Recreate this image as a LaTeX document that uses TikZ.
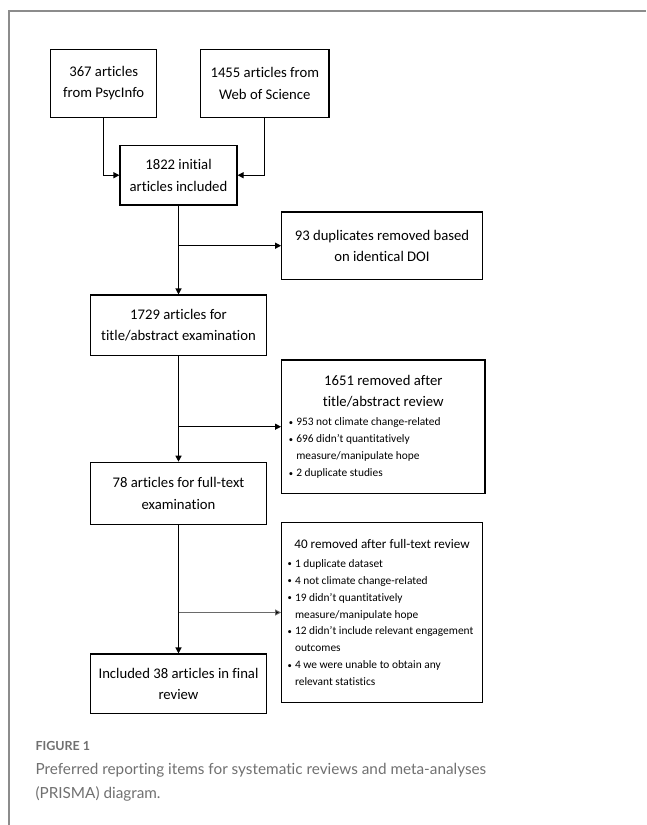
\documentclass[tikz,border=0pt]{standalone}
\usepackage{fontspec}
\setmainfont{Carlito}[Ligatures={NoCommon}]
\newfontfamily\capfont{Lato}[Ligatures={NoCommon}]
\usetikzlibrary{arrows.meta}
\definecolor{framec}{HTML}{8C8C8C}
\definecolor{capc}{HTML}{707070}
\definecolor{branchc}{HTML}{6A6A6A}
\newcommand\bitem[1]{\par\hangindent=7.5pt\hangafter=1\noindent\makebox[7.5pt][l]{\raisebox{0.6pt}{\scalebox{0.75}{\textbullet}}}#1}
\newcommand\nl{\hfill\break}
\begin{document}
\begin{tikzpicture}[x=1pt,y=-1pt,
  box/.style={draw=black,line width=1.2pt,inner sep=0pt,align=center,
    font=\fontsize{14.7}{21.5}\selectfont,text=black},
  conn/.style={line width=1.2pt,-{Triangle[length=6pt,width=6pt]}},
  thinconn/.style={line width=0.9pt,draw=branchc,-{Triangle[length=6pt,width=6pt,fill=black]}},
  caplabel/.style={anchor=base west,inner sep=0pt,text=capc}]
\useasboundingbox (0,0) rectangle (646,825);
\draw[framec,line width=1.5pt] (9,825) -- (9,11) -- (646,11);

\node[box,minimum width=106pt,minimum height=68pt] (ps) at (103.7,83.3) {367 articles\\from PsycInfo};
\node[box,minimum width=128.3pt,minimum height=68pt] (wos) at (264.8,83.3) {1455 articles from\\Web of Science};
\node[box,minimum width=117pt,minimum height=59.7pt] (ini) at (178.5,175.2) {1822 initial\\articles included};
\node[box,minimum width=200.6pt,minimum height=67.3pt] (dup) at (382,245.7) {93 duplicates removed based\\on identical DOI};
\node[box,minimum width=176.7pt,minimum height=60.3pt] (ta) at (178.5,325.2) {1729 articles for\\title/abstract examination};
\node[box,minimum width=203.3pt,minimum height=133.3pt] (rta) at (383.3,426.7) {\begin{minipage}{189pt}\centering\fontsize{14.7}{21.5}\selectfont
1651 removed after\\title/abstract review\par\vspace{2.4pt}\raggedright\fontsize{11.4}{16.9}\selectfont
\bitem{953 not climate change-related}
\bitem{696 didn’t quantitatively\nl measure/manipulate hope}
\bitem{2 duplicate studies}\par
\end{minipage}};
\node[box,minimum width=176.7pt,minimum height=62pt] (ft) at (178.5,493.3) {78 articles for full-text\\examination};
\node[box,minimum width=200.6pt,minimum height=179.6pt] (rft) at (382,612.5) {\begin{minipage}{189pt}\centering\fontsize{13.1}{21.5}\selectfont
40 removed after full-text review\par\vspace{2.1pt}\raggedright\fontsize{11.4}{16.9}\selectfont
\bitem{1 duplicate dataset}
\bitem{4 not climate change-related}
\bitem{19 didn’t quantitatively\nl measure/manipulate hope}
\bitem{12 didn’t include relevant engagement\nl outcomes}
\bitem{4 we were unable to obtain any\nl relevant statistics}\par
\end{minipage}};
\node[box,minimum width=176.7pt,minimum height=59.3pt] (fin) at (178.5,683.7) {Included 38 articles in final\\review};

\draw[conn] (ps.south) |- (ini.west);
\draw[conn] (wos.south) |- (ini.east);
\draw[conn] (ini.south) -- (ta.north);
\draw[conn] (ini.south |- dup.west) -- (dup.west);
\draw[conn] (ta.south) -- (ft.north);
\draw[conn] (ta.south |- rta.west) -- (rta.west);
\draw[conn] (ft.south) -- (fin.north);
\draw[thinconn] (ft.south |- rft.west) -- (rft.west);

\node[caplabel,font=\capfont\bfseries\fontsize{12.5}{15}\selectfont] (figlab) at (35.3,750) {FIGURE 1};
\node[caplabel,font=\capfont\fontsize{15.3}{23.7}\selectfont] (cap1) at (35.3,774.3) {Preferred reporting items for systematic reviews and meta-analyses};
\node[caplabel,font=\capfont\fontsize{15.3}{23.7}\selectfont] (cap2) at (35.3,798) {(PRISMA) diagram.};
\end{tikzpicture}
\end{document}
